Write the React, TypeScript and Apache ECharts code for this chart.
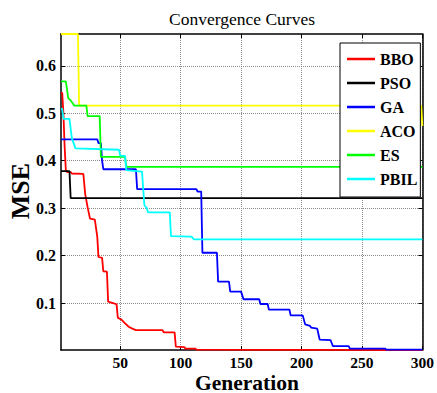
import React, { useEffect, useRef } from "react";
import * as echarts from "echarts";

const SERIES_NAMES = ["BBO", "PSO", "GA", "ACO", "ES", "PBIL"];
const SERIES_COLORS = ["#ff0000", "#000000", "#0000ff", "#ffff00", "#00ff00", "#00ffff"];

const BBO = [
  [1, 0.543], [2, 0.543], [3, 0.5], [4, 0.43], [5, 0.38], [6, 0.376], [9, 0.376], [10, 0.373],
  [19.5, 0.372], [21, 0.33], [23, 0.302], [24, 0.29], [25, 0.278], [29, 0.276], [31, 0.24],
  [32, 0.197], [35, 0.195], [36, 0.167], [39, 0.166], [40, 0.103], [44, 0.1], [47, 0.097],
  [48, 0.069], [51, 0.065], [54, 0.057], [57, 0.05], [60, 0.046], [63, 0.043], [85, 0.043],
  [86, 0.038], [95, 0.038], [96, 0.008], [103, 0.007], [104, 0.004], [112, 0.004],
  [113, 0.002], [300, 0.001],
];
const PSO = [[1, 0.378], [8, 0.378], [9, 0.321], [300, 0.321]];
const GA = [
  [1, 0.445], [31, 0.445], [32, 0.437], [34, 0.437], [35, 0.4], [36, 0.382], [63, 0.382],
  [64, 0.34], [113, 0.34], [114, 0.335], [117, 0.335], [118, 0.206], [130, 0.206],
  [131, 0.145], [140, 0.145], [141, 0.124], [150, 0.124], [152, 0.108], [165, 0.108],
  [166, 0.098], [172, 0.098], [173, 0.086], [190, 0.086], [191, 0.074], [201, 0.074],
  [203, 0.055], [207, 0.052], [208, 0.048], [213, 0.046], [215, 0.023], [224, 0.022],
  [226, 0.009], [239, 0.009], [240, 0.004], [269, 0.004], [270, 0.002], [300, 0.002],
];
const ACO = [[1, 0.667], [15, 0.667], [16, 0.516], [299, 0.516], [300, 0.473]];
const ES = [
  [1, 0.567], [5, 0.567], [7, 0.532], [9, 0.527], [11, 0.52], [12, 0.516], [22, 0.516],
  [23, 0.494], [33, 0.494], [34, 0.408], [54, 0.408], [55, 0.387], [300, 0.387],
];
const PBIL = [
  [1, 0.509], [2, 0.509], [3, 0.488], [8, 0.488], [10, 0.447], [13, 0.426], [49, 0.423],
  [50, 0.41], [54, 0.41], [55, 0.38], [68, 0.377], [70, 0.306], [72, 0.3], [73, 0.291],
  [91, 0.291], [92, 0.241], [109, 0.24], [111, 0.234], [300, 0.234],
];
const SERIES_DATA = [BBO, PSO, GA, ACO, ES, PBIL];

const X_TICKS = [50, 100, 150, 200, 250, 300];
const Y_TICKS = [0.1, 0.2, 0.3, 0.4, 0.5, 0.6];
const X_MIN = 1;
const X_MAX = 300;
const Y_MIN = 0.001;
const Y_MAX = 0.667;

const FONT = "'Liberation Serif', 'Times New Roman', serif";

export default function App() {
  const ref = useRef<HTMLDivElement>(null);
  useEffect(() => {
    if (!ref.current) return;
    const chart = echarts.init(ref.current, null, { renderer: "svg" });
    const axisLineStyle = { color: "#000", width: 1.5 };
    chart.setOption({
      animation: false,
      backgroundColor: "#ffffff",
      grid: { left: 61, top: 34, width: 365, height: 316, containLabel: false },
      legend: {
        orient: "vertical",
        left: 340,
        top: 43,
        padding: [8, 3, 10, 7],
        icon: "rect",
        itemWidth: 28,
        itemHeight: 2.5,
        itemGap: 8,
        backgroundColor: "#ffffff",
        borderColor: "#000",
        borderWidth: 1,
        borderRadius: 0,
        textStyle: { fontFamily: FONT, fontWeight: "bold", fontSize: 16, color: "#000" },
        data: SERIES_NAMES,
      },
      xAxis: [
        {
          type: "value",
          min: X_MIN,
          max: X_MAX,
          axisLine: { show: true, onZero: false, lineStyle: axisLineStyle },
          axisTick: { show: true, inside: true, length: 4, customValues: X_TICKS, lineStyle: { color: "#000" } },
          axisLabel: {
            customValues: X_TICKS,
            margin: 5,
            fontFamily: FONT,
            fontWeight: "bold",
            fontSize: 15.5,
            lineHeight: 15,
            color: "#000",
          },
          splitLine: { show: true, lineStyle: { color: "#8c8c8c", type: "dotted", width: 1 } },
        },
        {
          type: "value",
          position: "top",
          min: X_MIN,
          max: X_MAX,
          axisLine: { show: true, onZero: false, lineStyle: axisLineStyle },
          axisTick: { show: true, inside: true, length: 4, customValues: X_TICKS, lineStyle: { color: "#000" } },
          axisLabel: { show: false, customValues: X_TICKS },
          splitLine: { show: false },
        },
      ],
      yAxis: [
        {
          type: "value",
          min: Y_MIN,
          max: Y_MAX,
          axisLine: { show: true, onZero: false, lineStyle: axisLineStyle },
          axisTick: { show: true, inside: true, length: 4, customValues: Y_TICKS, lineStyle: { color: "#000" } },
          axisLabel: {
            customValues: Y_TICKS,
            margin: 5,
            fontFamily: FONT,
            fontWeight: "bold",
            fontSize: 16,
            color: "#000",
            formatter: (v: number) => v.toFixed(1),
          },
          splitLine: { show: true, lineStyle: { color: "#8c8c8c", type: "dotted", width: 1 } },
        },
        {
          type: "value",
          position: "right",
          min: Y_MIN,
          max: Y_MAX,
          axisLine: { show: true, onZero: false, lineStyle: axisLineStyle },
          axisTick: { show: true, inside: true, length: 4, customValues: Y_TICKS, lineStyle: { color: "#000" } },
          axisLabel: { show: false, customValues: Y_TICKS },
          splitLine: { show: false },
        },
      ],
      graphic: [
        {
          type: "text",
          x: 242,
          y: 19,
          style: {
            text: "Convergence Curves",
            fontFamily: FONT,
            fontWeight: "normal",
            fontSize: 17.5,
            fill: "#000",
            align: "center",
            verticalAlign: "middle",
          },
        },
        {
          type: "text",
          x: 20,
          y: 191,
          rotation: Math.PI / 2,
          style: {
            text: "MSE",
            fontFamily: FONT,
            fontWeight: "bold",
            fontSize: 26,
            fill: "#000",
            align: "center",
            verticalAlign: "middle",
          },
        },
        {
          type: "text",
          x: 247,
          y: 382.5,
          style: {
            text: "Generation",
            fontFamily: FONT,
            fontWeight: "bold",
            fontSize: 21.5,
            lineHeight: 19,
            fill: "#000",
            align: "center",
            verticalAlign: "middle",
          },
        },
      ],
      series: SERIES_NAMES.map((name, i) => ({
        name,
        type: "line",
        xAxisIndex: 0,
        yAxisIndex: 0,
        data: SERIES_DATA[i],
        symbol: "none",
        showSymbol: false,
        clip: true,
        lineStyle: { color: SERIES_COLORS[i], width: 1.8 },
        itemStyle: { color: SERIES_COLORS[i] },
      })),
    });
    return () => chart.dispose();
  }, []);
  return (
    <div
      ref={ref}
      style={{ position: "fixed", left: 0, top: 0, width: 437, height: 393, background: "#fff" }}
    />
  );
}
